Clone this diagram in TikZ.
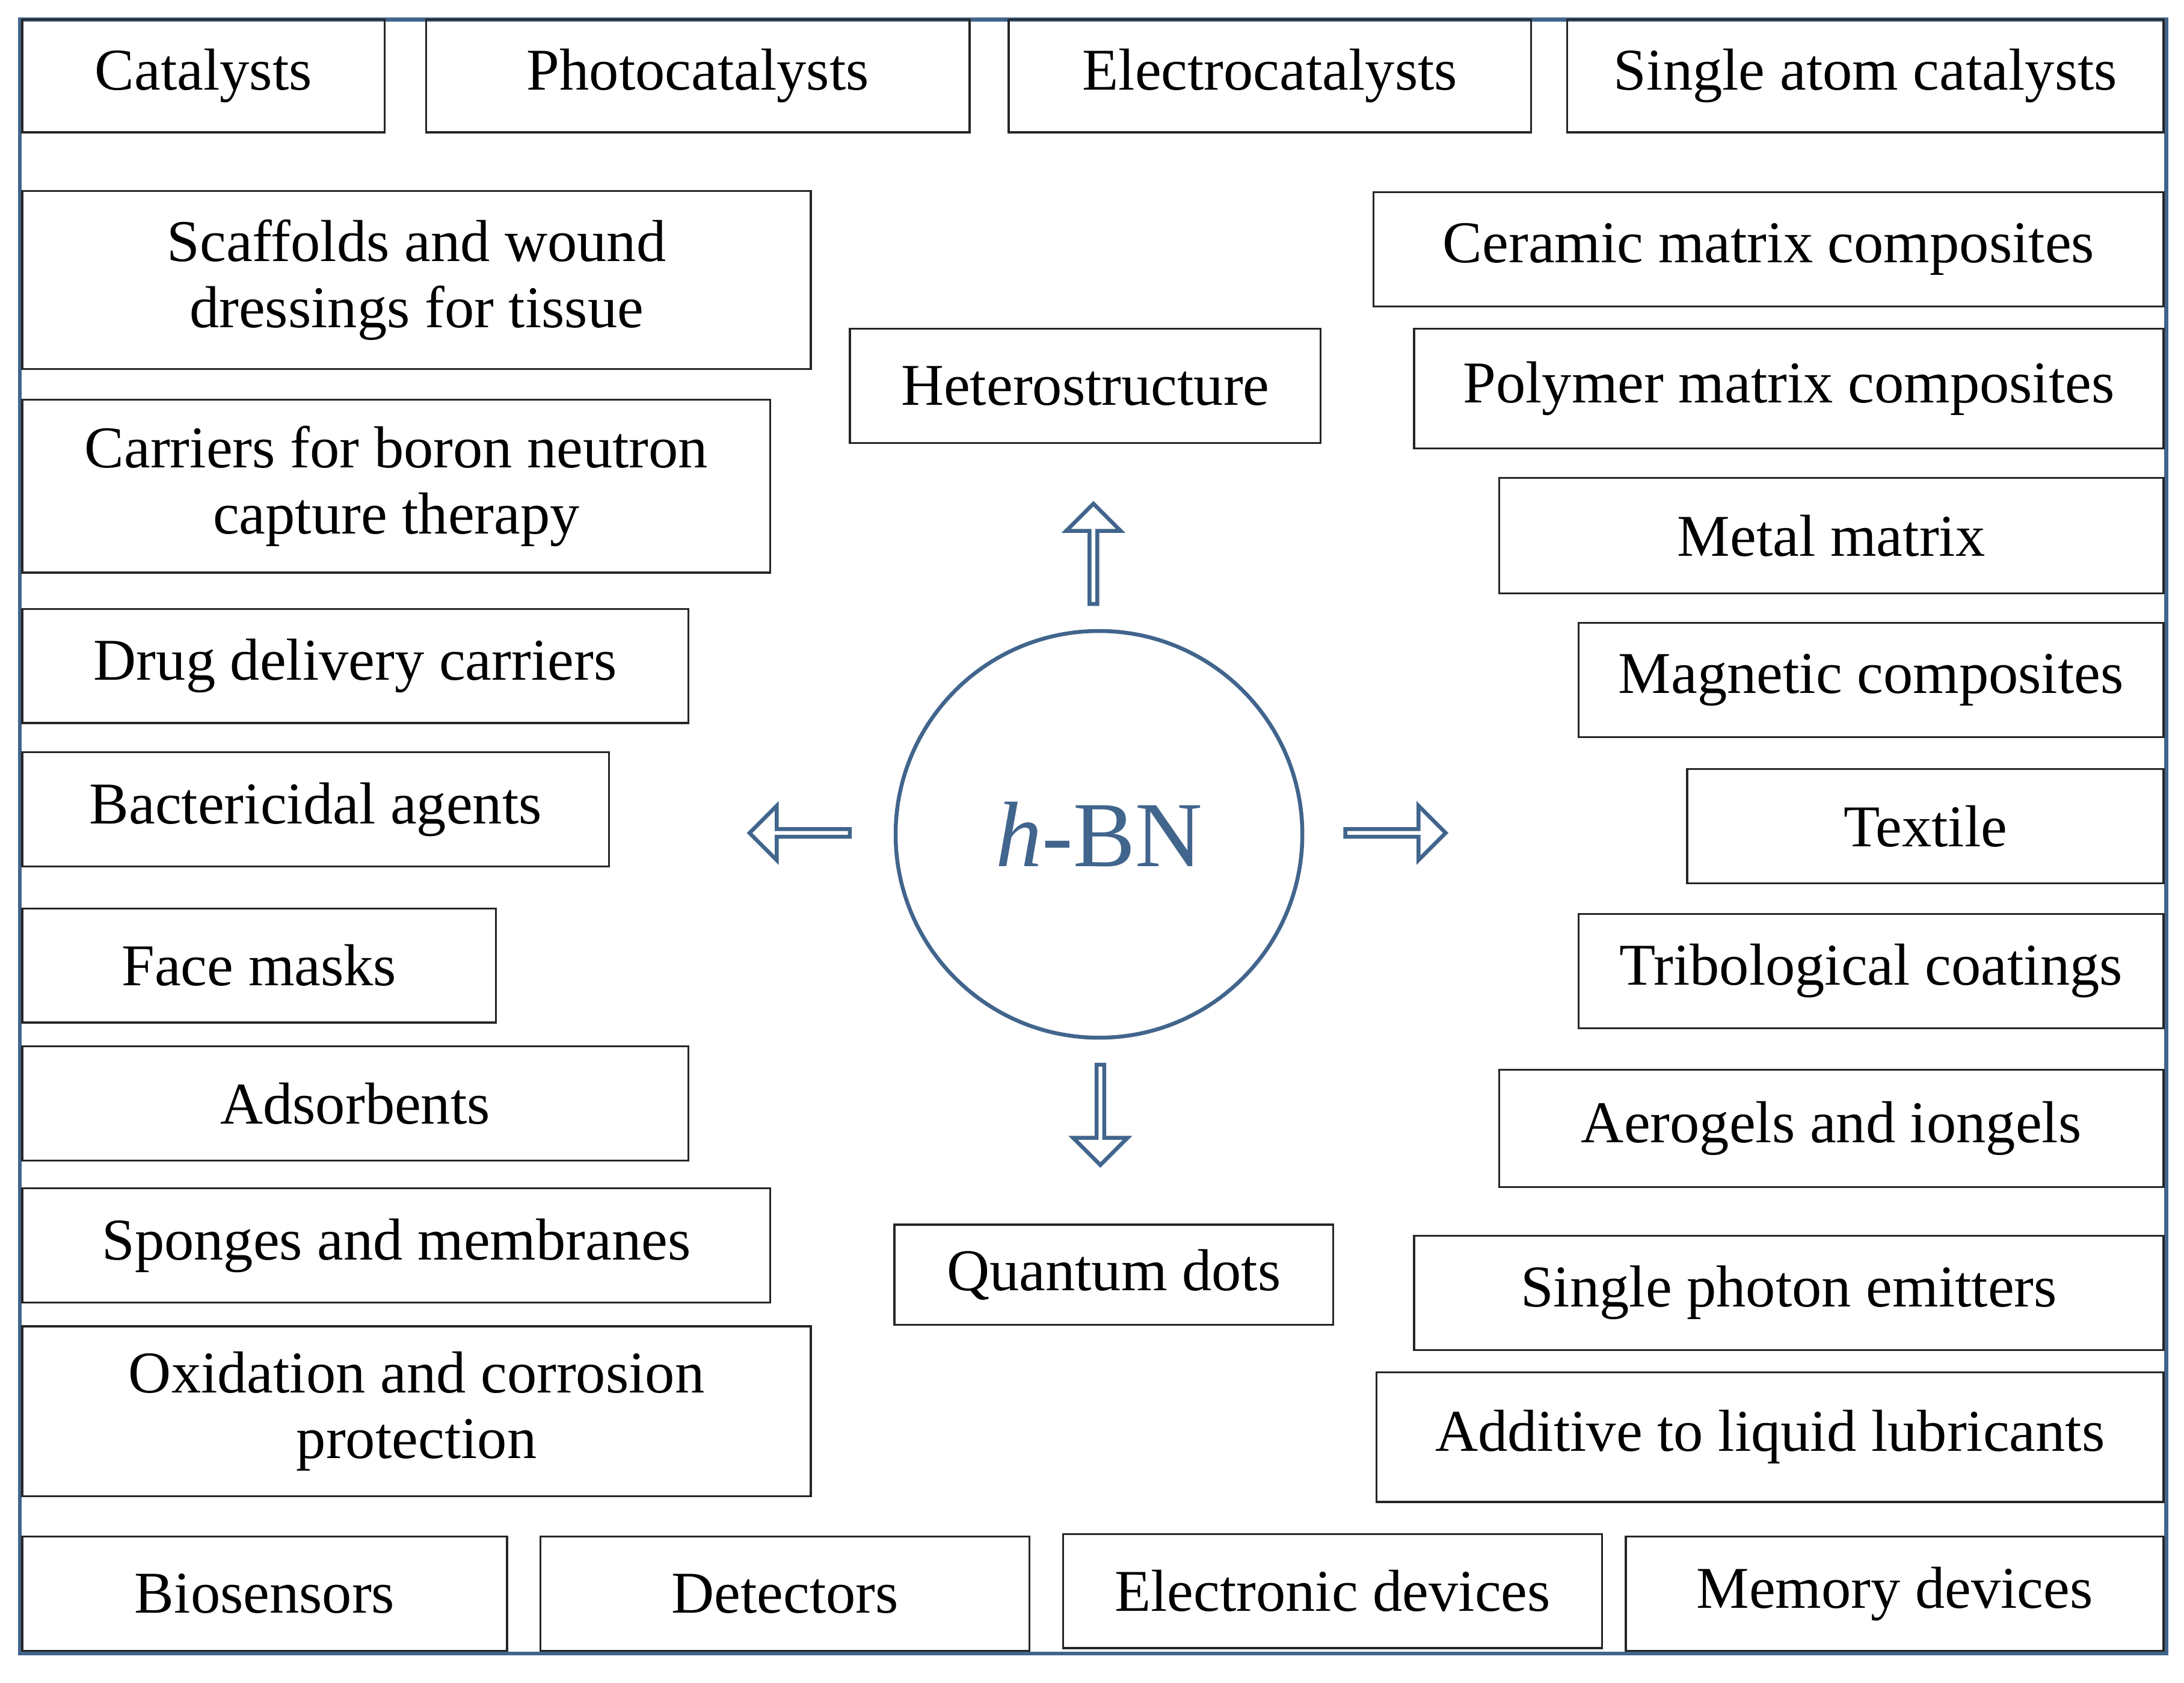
\documentclass[tikz,border=0pt]{standalone}
\usepackage{fontspec}
\setmainfont{Liberation Serif}
\usetikzlibrary{shapes.arrows}
\definecolor{frame}{HTML}{41658C}
\tikzset{
  box/.style={draw=black!85, line width=0.8pt, align=center, inner sep=0pt, font=\fontsize{24.2}{27}\selectfont},
  barrow/.style={single arrow, draw=frame, fill=white, line width=1.6pt, minimum height=1.44cm, minimum width=0.78cm, single arrow head extend=0.17cm, inner sep=0pt}
}
\newcommand{\bx}[6]{\node[box, minimum width={(#4-#2)*0.02cm}, minimum height={(#5-#3)*0.02cm}] (#1) at ({(#2+#4)/2*0.02},{-(#3+#5)/2*0.02}) {#6};}
\begin{document}
\begin{tikzpicture}
\useasboundingbox (0,0) rectangle (31.36,-24.16);
\node[draw=frame, line width=1.6pt, minimum width=30.82cm, minimum height=23.46cm, inner sep=0pt] (frm) at ({(14+1555)/2*0.02},{-(14+1187)/2*0.02}) {};
\bx{cat}{16}{14}{276}{95}{Catalysts}
\bx{pho}{306}{14}{696}{95}{Photocatalysts}
\bx{ele}{724}{14}{1099}{95}{Electrocatalysts}
\bx{sac}{1125}{14}{1553}{95}{Single atom catalysts}
\bx{sca}{16}{137}{582}{265}{Scaffolds and wound\\dressings for tissue}
\bx{car}{16}{287}{553}{411}{Carriers for boron neutron\\capture therapy}
\bx{dru}{16}{437}{494}{519}{Drug delivery carriers}
\bx{bac}{16}{540}{437}{622}{Bactericidal agents}
\bx{fac}{16}{652}{356}{734}{Face masks}
\bx{ads}{16}{751}{494}{833}{Adsorbents}
\bx{spo}{16}{853}{553}{935}{Sponges and membranes}
\bx{oxi}{16}{952}{582}{1074}{Oxidation and corrosion\\protection}
\bx{bio}{16}{1103}{364}{1185}{Biosensors}
\bx{det}{388}{1103}{739}{1185}{Detectors}
\bx{eld}{763}{1101}{1150}{1183}{Electronic devices}
\bx{mem}{1167}{1103}{1553}{1185}{Memory devices}
\bx{cer}{986}{138}{1553}{220}{Ceramic matrix composites}
\bx{pol}{1015}{236}{1553}{322}{Polymer matrix composites}
\bx{met}{1076}{343}{1553}{426}{Metal matrix}
\bx{mag}{1133}{447}{1553}{529}{Magnetic composites}
\bx{tex}{1211}{552}{1553}{634}{Textile}
\bx{tri}{1133}{656}{1553}{738}{Tribological coatings}
\bx{aer}{1076}{768}{1553}{852}{Aerogels and iongels}
\bx{sph}{1015}{887}{1553}{969}{Single photon emitters}
\bx{add}{988}{985}{1553}{1078}{Additive to liquid lubricants}
\bx{het}{610}{236}{948}{318}{Heterostructure}
\bx{qd}{642}{879}{957}{951}{Quantum dots}
\node[circle, draw=frame, line width=1.6pt, minimum size=5.84cm, text=frame, font=\fontsize{38}{40}\selectfont] (hbn) at (15.78,-11.98) {\textit{h}-BN};
\node[barrow, rotate=90] (au) at (15.70,-7.98) {};
\node[barrow, rotate=180] (al) at (11.51,-11.96) {};
\node[barrow] (ar) at (20.01,-11.96) {};
\node[barrow, rotate=-90] (ad) at (15.80,-15.98) {};
\end{tikzpicture}
\end{document}
